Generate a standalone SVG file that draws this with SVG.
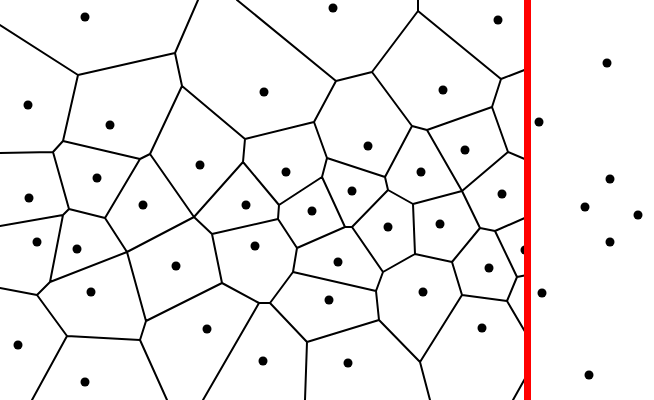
<svg xmlns="http://www.w3.org/2000/svg" width="654" height="400" viewBox="0 0 654 400">
<style>
.e{stroke:#000;stroke-width:2;fill:none;stroke-linecap:round;stroke-linejoin:round}
.s{fill:#000}
</style>
<rect width="654" height="400" fill="#fff"/>
<g id="connectors" class="e">
<path d="M0,25L78,75L175,53L198,0M78,75L63,141L53,152L0,153M63,141L140,159L150,154L182,86L175,53M182,86L245,139L314,122L336,81L237,0M336,81L372,72L418,11L418,0M418,11L501,79L527,69M372,72L412,126L427,130L492,107L501,79M492,107L508,152L527,160M508,152L462,191L427,130M412,126L385,177L327,158L314,122M327,158L322,177L279,205L243,162L245,139M243,162L194,217L150,154M140,159L105,218L69,209L53,152M69,209L63,215L0,226M63,215L50,282L37,295L0,288M105,218L127,252L194,217L212,234L278,219L279,205M127,252L50,282M127,252L146,321L140,340L67,336L37,295M67,336L32,400M140,340L167,400M146,321L222,283L212,234M222,283L259,303L270,303L293,272L297,248L278,219M297,248L345,227L322,177M345,227L352,227L388,190L385,177M388,190L413,204L462,191L480,228L495,231L527,217M413,204L415,254L383,272L352,227M383,272L376,291L293,272M376,291L379,320L307,342L270,303M307,342L305,400M259,303L203,400M379,320L420,362L462,295L452,262L415,254M452,262L480,228M420,362L430,400M462,295L507,301L517,277L495,231M517,277L527,275M507,301L527,335M527,375L513,400"/>
</g>
<g id="sites" class="s">
<g id="p1"><circle cx="85" cy="17" r="4.5"/></g>
<g id="p2"><circle cx="333" cy="8" r="4.5"/></g>
<g id="p3"><circle cx="498" cy="20" r="4.5"/></g>
<g id="p4"><circle cx="607" cy="63" r="4.5"/></g>
<g id="p5"><circle cx="28" cy="105" r="4.5"/></g>
<g id="p6"><circle cx="110" cy="125" r="4.5"/></g>
<g id="p7"><circle cx="264" cy="92" r="4.5"/></g>
<g id="p8"><circle cx="443" cy="90" r="4.5"/></g>
<g id="p9"><circle cx="539" cy="122" r="4.5"/></g>
<g id="p10"><circle cx="368" cy="146" r="4.5"/></g>
<g id="p11"><circle cx="465" cy="150" r="4.5"/></g>
<g id="p12"><circle cx="97" cy="178" r="4.5"/></g>
<g id="p13"><circle cx="200" cy="165" r="4.5"/></g>
<g id="p14"><circle cx="286" cy="172" r="4.5"/></g>
<g id="p15"><circle cx="421" cy="172" r="4.5"/></g>
<g id="p16"><circle cx="29" cy="198" r="4.5"/></g>
<g id="p17"><circle cx="143" cy="205" r="4.5"/></g>
<g id="p18"><circle cx="352" cy="191" r="4.5"/></g>
<g id="p19"><circle cx="502" cy="194" r="4.5"/></g>
<g id="p20"><circle cx="610" cy="179" r="4.5"/></g>
<g id="p21"><circle cx="585" cy="207" r="4.5"/></g>
<g id="p22"><circle cx="638" cy="215" r="4.5"/></g>
<g id="p23"><circle cx="610" cy="242" r="4.5"/></g>
<g id="p24"><circle cx="246" cy="205" r="4.5"/></g>
<g id="p25"><circle cx="312" cy="211" r="4.5"/></g>
<g id="p26"><circle cx="388" cy="227" r="4.5"/></g>
<g id="p27"><circle cx="440" cy="224" r="4.5"/></g>
<g id="p28"><circle cx="37" cy="242" r="4.5"/></g>
<g id="p29"><circle cx="77" cy="249" r="4.5"/></g>
<g id="p30"><circle cx="255" cy="246" r="4.5"/></g>
<g id="p31"><circle cx="176" cy="266" r="4.5"/></g>
<g id="p32"><circle cx="338" cy="262" r="4.5"/></g>
<g id="p33"><circle cx="489" cy="268" r="4.5"/></g>
<g id="p34"><circle cx="525" cy="250" r="4.5"/></g>
<g id="p35"><circle cx="91" cy="292" r="4.5"/></g>
<g id="p36"><circle cx="423" cy="292" r="4.5"/></g>
<g id="p37"><circle cx="542" cy="293" r="4.5"/></g>
<g id="p38"><circle cx="329" cy="300" r="4.5"/></g>
<g id="p39"><circle cx="207" cy="329" r="4.5"/></g>
<g id="p40"><circle cx="482" cy="328" r="4.5"/></g>
<g id="p41"><circle cx="18" cy="345" r="4.5"/></g>
<g id="p42"><circle cx="263" cy="361" r="4.5"/></g>
<g id="p43"><circle cx="348" cy="363" r="4.5"/></g>
<g id="p44"><circle cx="85" cy="382" r="4.5"/></g>
<g id="p45"><circle cx="589" cy="375" r="4.5"/></g>
</g>
<rect id="divider" x="524" y="0" width="7" height="400" fill="#ff0000"/>
</svg>
